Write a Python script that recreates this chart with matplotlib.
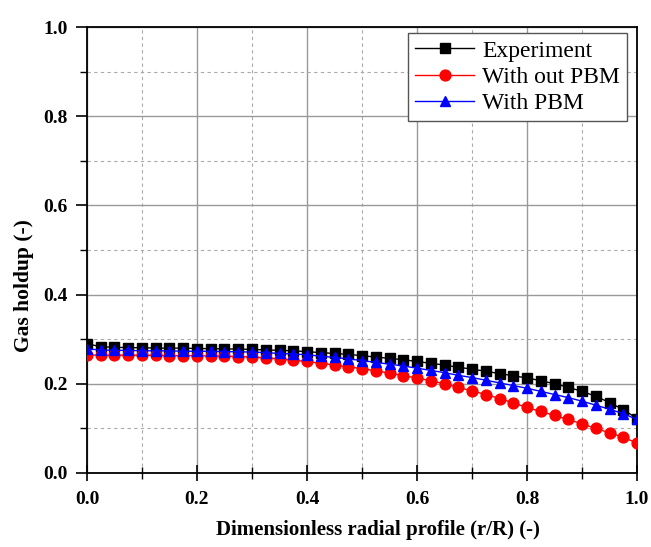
import numpy as np
import matplotlib
matplotlib.use("Agg")
import matplotlib.pyplot as plt
from matplotlib.ticker import MultipleLocator, FormatStrFormatter

r = np.round(np.arange(0, 1.0001, 0.025), 3)

experiment = [0.290, 0.283, 0.282, 0.281, 0.281, 0.280, 0.280, 0.280, 0.279, 0.279,
              0.278, 0.278, 0.277, 0.276, 0.275, 0.274, 0.272, 0.270, 0.268, 0.266,
              0.263, 0.260, 0.257, 0.254, 0.250, 0.246, 0.242, 0.237, 0.233, 0.228,
              0.223, 0.218, 0.213, 0.207, 0.200, 0.192, 0.183, 0.172, 0.158, 0.142,
              0.122]

without_pbm = [0.265, 0.264, 0.264, 0.264, 0.264, 0.264, 0.263, 0.263, 0.263, 0.262,
               0.262, 0.261, 0.260, 0.258, 0.256, 0.253, 0.250, 0.246, 0.242, 0.238,
               0.234, 0.229, 0.224, 0.218, 0.213, 0.207, 0.200, 0.192, 0.184, 0.176,
               0.167, 0.157, 0.147, 0.138, 0.129, 0.120, 0.110, 0.100, 0.090, 0.080,
               0.067]

with_pbm = [0.278, 0.276, 0.275, 0.275, 0.274, 0.274, 0.274, 0.273, 0.273, 0.273,
            0.272, 0.272, 0.271, 0.270, 0.268, 0.267, 0.265, 0.262, 0.259, 0.256,
            0.252, 0.248, 0.244, 0.240, 0.235, 0.230, 0.225, 0.219, 0.214, 0.208,
            0.202, 0.196, 0.190, 0.183, 0.176, 0.169, 0.161, 0.152, 0.143, 0.133,
            0.120]

labels = ["Experiment", "With out PBM", "With PBM"]

plt.rcParams["font.family"] = ["Liberation Serif", "DejaVu Serif"]

fig = plt.figure(figsize=(6.51, 5.47), dpi=100)
ax = fig.add_axes([0.1336, 0.1353, 0.845, 0.8153])

ax.plot(r, experiment, color="black", lw=1.0, marker="s", ms=6.8, label=labels[0], zorder=3)
ax.plot(r, without_pbm, color="red", lw=1.0, marker="o", ms=7.8, label=labels[1], zorder=3)
ax.plot(r, with_pbm, color="blue", lw=1.0, marker="^", ms=7.8, label=labels[2], zorder=4)

ax.set_xlim(0, 1.0)
ax.set_ylim(0, 1.0)
ax.xaxis.set_major_locator(MultipleLocator(0.2))
ax.xaxis.set_minor_locator(MultipleLocator(0.1))
ax.yaxis.set_major_locator(MultipleLocator(0.2))
ax.yaxis.set_minor_locator(MultipleLocator(0.1))
ax.xaxis.set_major_formatter(FormatStrFormatter("%.1f"))
ax.yaxis.set_major_formatter(FormatStrFormatter("%.1f"))

ax.grid(which="major", color="#999999", lw=1.0, ls="-")
ax.grid(which="minor", color="#aaaaaa", lw=0.8, ls=(0, (3, 3)))
ax.set_axisbelow(True)

for s in ax.spines.values():
    s.set_linewidth(1.3)

ax.tick_params(axis="x", which="major", direction="inout", length=12, width=1.2,
               labelsize=14, pad=7)
ax.tick_params(axis="x", which="minor", direction="inout", length=8, width=1.0)
ax.tick_params(axis="y", which="major", direction="out", length=8, width=1.2,
               labelsize=14, pad=6)
ax.tick_params(axis="y", which="minor", direction="out", length=5, width=1.0)
for lab in ax.get_xticklabels() + ax.get_yticklabels():
    lab.set_fontweight("bold")

ax.set_xlabel("Dimensionless radial profile (r/R) (-)", fontsize=15, fontweight="bold")
ax.xaxis.set_label_coords(0.529, -0.105)
ax.set_ylabel("Gas holdup (-)", fontsize=15.5, fontweight="bold")
ax.yaxis.set_label_coords(-0.096, 0.42)

leg = ax.legend(loc="upper right", bbox_to_anchor=(0.982, 0.9865), borderaxespad=0,
                fontsize=17, frameon=True, fancybox=False,
                edgecolor="#555555", framealpha=1.0, borderpad=0.3,
                labelspacing=0.2, handlelength=2.5, handletextpad=0.35)
leg.get_frame().set_linewidth(1.0)

fig.savefig("out.png", dpi=100)
